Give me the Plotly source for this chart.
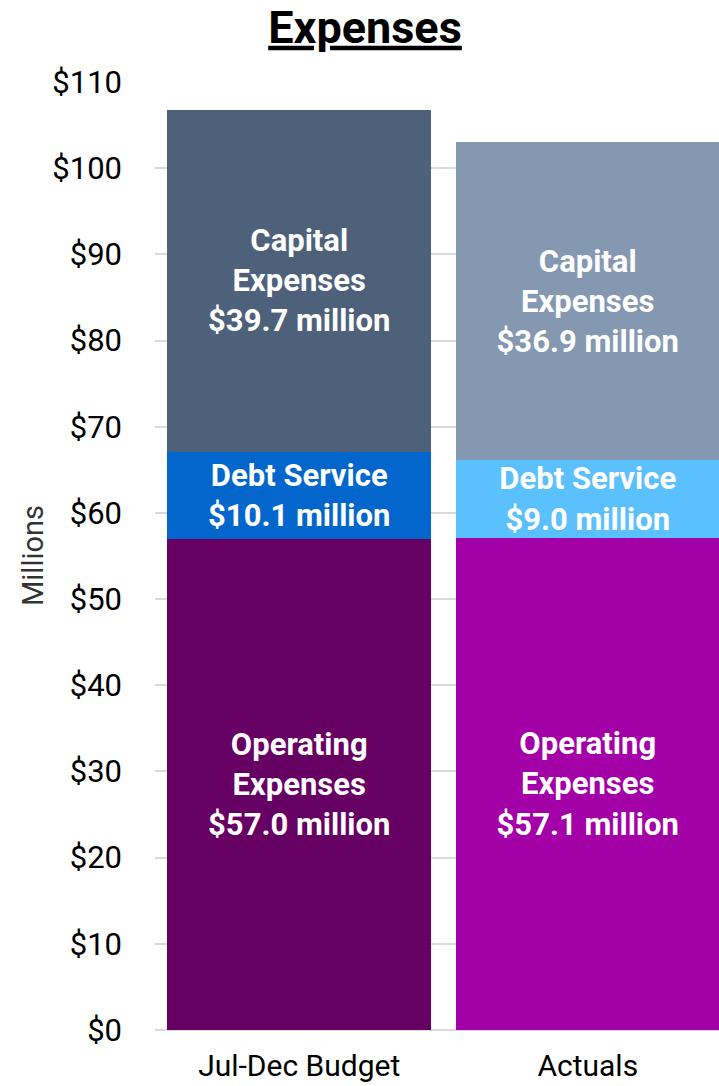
import plotly.graph_objects as go

categories = ["Jul-Dec Budget", "Actuals"]
operating = [57.0, 57.1]
debt = [10.1, 9.0]
capital = [39.7, 36.9]
tick_vals = list(range(0, 111, 10))
tick_text = [f"${v}" for v in tick_vals]

op_colors = ["#660063", "#A300A8"]
debt_colors = ["#0366CC", "#5BC0FE"]
cap_colors = ["#4E617A", "#8499B1"]

def labels(name, vals):
    return [f"{name}<br>${v:.1f} million" for v in vals]

W, H = 719, 1086
fig = go.Figure()
series = [
    ("Operating<br>Expenses", operating, op_colors),
    ("Debt Service", debt, debt_colors),
    ("Capital<br>Expenses", capital, cap_colors),
]
for name, vals, cols in series:
    fig.add_trace(go.Bar(
        x=categories, y=vals, marker=dict(color=cols, line=dict(width=0)),
        text=labels(name, vals), textposition="inside", insidetextanchor="middle",
        textangle=0, constraintext="none",
        textfont=dict(family="Roboto", size=31, color="white", weight=700),
        showlegend=False, hoverinfo="skip",
    ))

fig.update_layout(
    barmode="stack", bargap=0.085,
    width=W, height=H,
    margin=dict(l=155, r=0, t=82, b=56, autoexpand=False),
    paper_bgcolor="white", plot_bgcolor="white",
    font=dict(family="Roboto", color="black"),
    title=dict(text="<b><u>Expenses</u></b>", x=365/W, xanchor="center",
               y=1 - 27/H, yanchor="middle", yref="container",
               font=dict(family="Roboto", size=45, color="black")),
    xaxis=dict(range=[-0.5, -0.5 + 564/288.5], showgrid=False, zeroline=False,
               showline=False, tickfont=dict(size=30, color="black"),
               ticks="", ticklabelstandoff=15, automargin=False),
    yaxis=dict(range=[0, 110], tickvals=tick_vals, ticktext=tick_text,
               showgrid=True, gridcolor="#D9D9D9", gridwidth=2,
               zeroline=True, zerolinecolor="#D9D9D9", zerolinewidth=2,
               tickfont=dict(size=31, color="black"), ticklabelstandoff=32,
               automargin=False),
    annotations=[dict(text="Millions", textangle=-90, xref="paper", yref="paper",
                      x=(33 - 155) / 564, y=0.5, showarrow=False,
                      xanchor="center", yanchor="middle",
                      font=dict(family="Roboto", size=29, color="#333333"))],
)

fig.write_html("out.html", config={"displayModeBar": False},
               post_script="document.body.style.margin='0';document.body.style.overflow='hidden';")
